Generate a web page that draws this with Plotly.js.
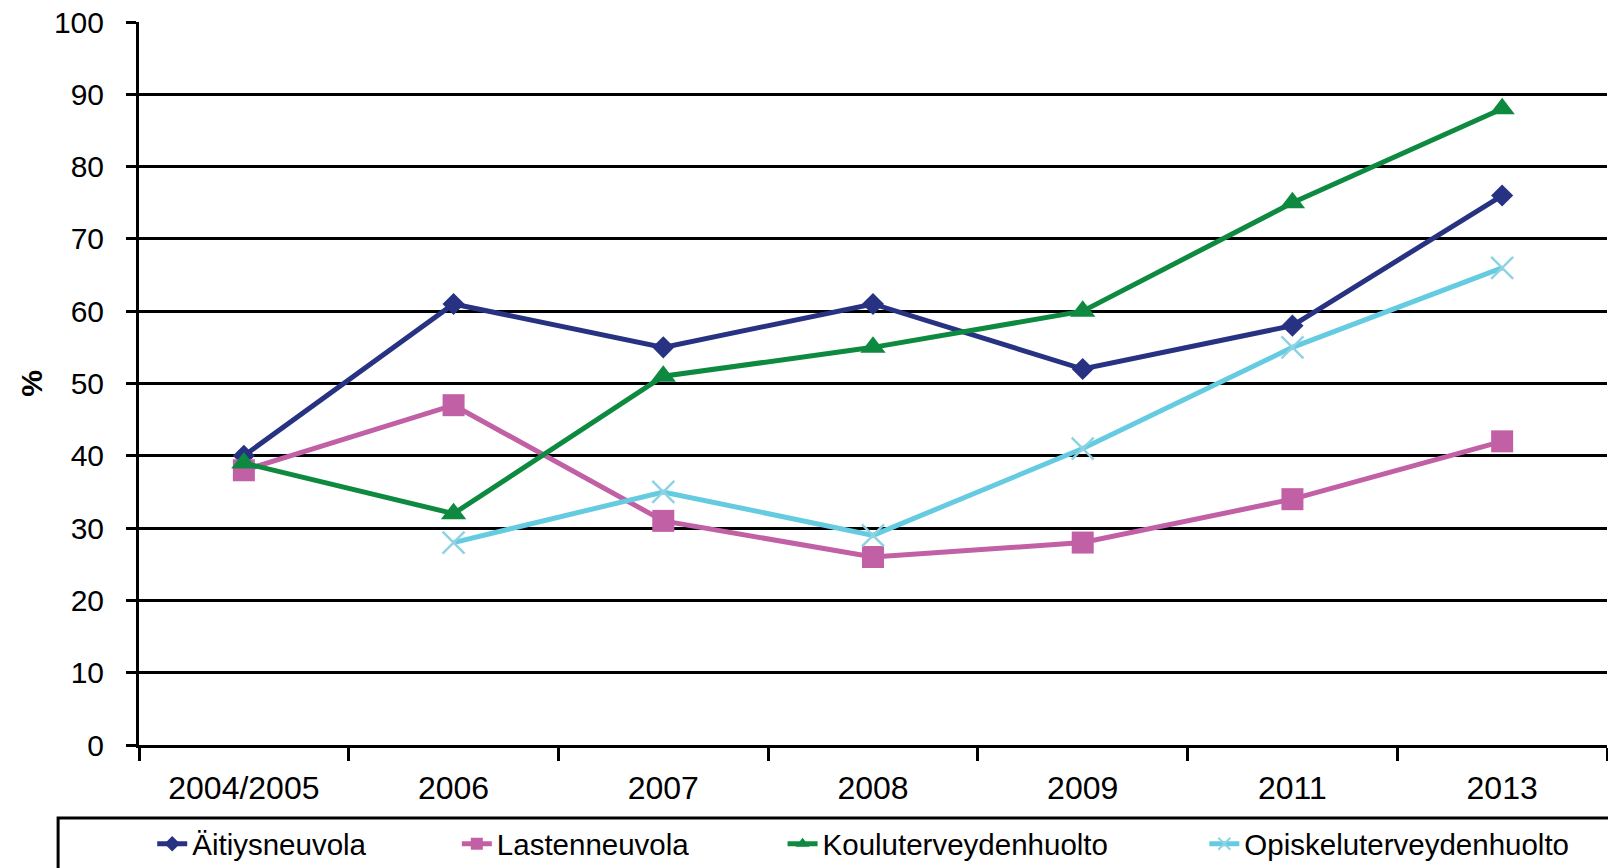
<!DOCTYPE html>
<html>
<head>
<meta charset="utf-8">
<script src="https://cdn.plot.ly/plotly-3.0.1.min.js"></script>
<style>html,body{margin:0;padding:0;background:#fff;}#chart{width:1608px;height:868px;}</style>
</head>
<body>
<div id="chart"></div>
<script>
const categories = ["2004/2005", "2006", "2007", "2008", "2009", "2011", "2013"];
const seriesNames = ["Äitiysneuvola", "Lastenneuvola", "Kouluterveydenhuolto", "Opiskeluterveydenhuolto"];
const aitiysneuvola = [40, 61, 55, 61, 52, 58, 76];
const lastenneuvola = [38, 47, 31, 26, 28, 34, 42];
const kouluterveydenhuolto = [39, 32, 51, 55, 60, 75, 88];
const opiskeluterveydenhuolto = [null, 28, 35, 29, 41, 55, 66];
const yTickValues = [0, 10, 20, 30, 40, 50, 60, 70, 80, 90, 100];

const FONT = "'Liberation Sans', Arial, sans-serif";
const styles = [
  {color: "#283282", symbol: "diamond", size: 17, lineColor: "#283282", lw: 0},
  {color: "#C260A6", symbol: "square", size: 22, lineColor: "#C260A6", lw: 0},
  {color: "#0E8A40", symbol: "triangle-up", size: 22, lineColor: "#0E8A40", lw: 0},
  {color: "#64CBE0", symbol: "x-thin", size: 22, lineColor: "#8FD3E3", lw: 2.5}
];
const seriesData = [aitiysneuvola, lastenneuvola, kouluterveydenhuolto, opiskeluterveydenhuolto];
const legendNames = ["legend", "legend2", "legend3", "legend4"];
const legendX = [0.009, 0.2165, 0.4384, 0.7257];

const traces = seriesData.map((vals, i) => ({
  type: "scatter",
  mode: "lines+markers",
  name: seriesNames[i],
  x: categories,
  y: vals,
  connectgaps: false,
  legend: legendNames[i],
  line: {color: styles[i].color, width: 5},
  marker: {symbol: styles[i].symbol, size: styles[i].size, color: styles[i].color,
           line: {color: styles[i].lineColor, width: styles[i].lw}}
}));

const layout = {
  width: 1608, height: 868,
  margin: {l: 139, r: 1, t: 22, b: 123, autoexpand: false},
  paper_bgcolor: "#fff", plot_bgcolor: "#fff",
  font: {family: FONT, color: "#000"},
  showlegend: true,
  xaxis: {
    type: "category",
    categoryorder: "array", categoryarray: categories,
    tickson: "boundaries",
    ticks: "outside", ticklen: 13, tickwidth: 2.5, tickcolor: "#000",
    showline: true, linecolor: "#000", linewidth: 3,
    showgrid: false, zeroline: false,
    tickfont: {size: 32, family: FONT, color: "#000"},
    ticklabelstandoff: 13,
    range: [-0.5, 6.5]
  },
  yaxis: {
    range: [0, 100], tickvals: yTickValues,
    ticks: "outside", ticklen: 10, tickwidth: 3, tickcolor: "#000",
    showline: true, linecolor: "#000", linewidth: 3,
    showgrid: true, gridcolor: "#000", gridwidth: 3,
    zeroline: false,
    tickfont: {size: 30, family: FONT, color: "#000"},
    ticklabelstandoff: 16,
    title: {text: "%", font: {size: 30, family: FONT, color: "#000", weight: "bold"}, standoff: 3}
  },
  shapes: [{
    type: "rect", xref: "paper", yref: "paper",
    x0: -0.0551, x1: 1.02, y0: -0.101, y1: -0.2,
    line: {color: "#000", width: 3}, fillcolor: "rgba(0,0,0,0)"
  }]
};
legendNames.forEach((ln, i) => {
  layout[ln] = {
    x: legendX[i], xanchor: "left", y: -0.137, yanchor: "middle",
    orientation: "h", bgcolor: "rgba(0,0,0,0)", borderwidth: 0,
    font: {size: 29.5, family: FONT, color: "#000"},
    itemsizing: "constant"
  };
});

Plotly.newPlot("chart", traces, layout, {displayModeBar: false, responsive: false});
</script>
</body>
</html>
